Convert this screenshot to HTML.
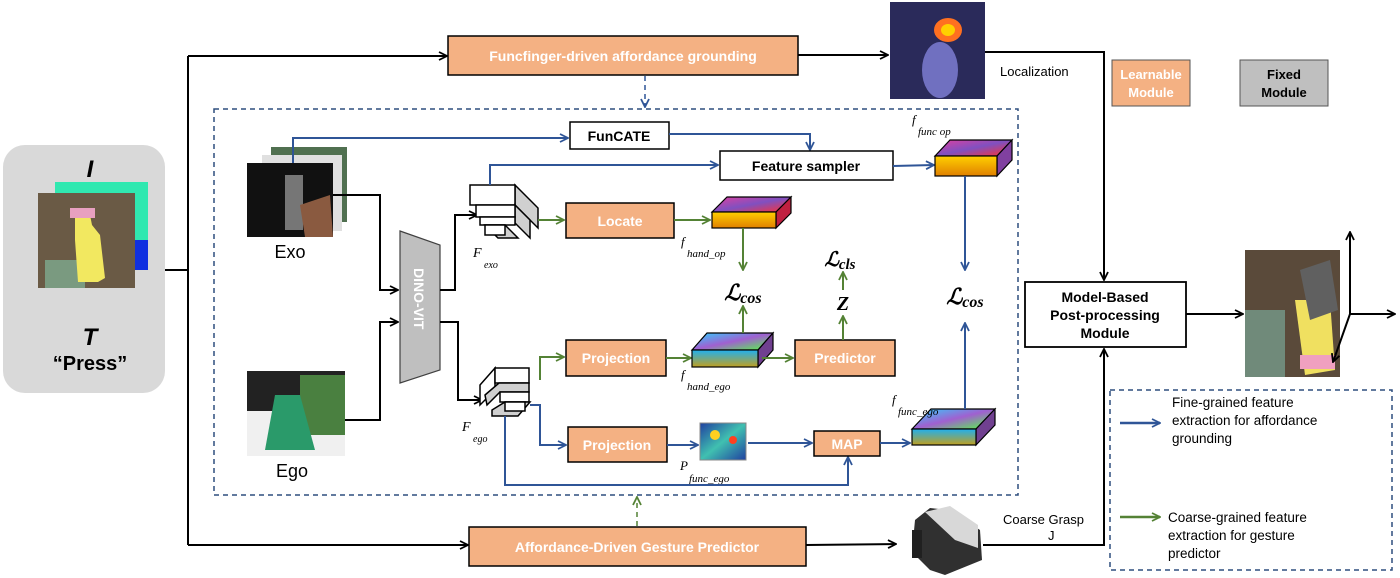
<!DOCTYPE html>
<html><head><meta charset="utf-8"><style>
html,body{margin:0;padding:0;background:#fff}
svg{display:block}
text{font-family:"Liberation Sans",sans-serif}
.b{font-weight:bold}
.it{font-family:"Liberation Serif",serif;font-style:italic}
</style></head><body>
<svg width="1400" height="578" viewBox="0 0 1400 578" xmlns="http://www.w3.org/2000/svg">
<defs>
<marker id="ak" markerWidth="10" markerHeight="10" refX="9" refY="5" orient="auto" markerUnits="userSpaceOnUse"><path d="M1,1 L9,5 L1,9" fill="none" stroke="#000" stroke-width="1.8"/></marker>
<marker id="ab" markerWidth="10" markerHeight="10" refX="9" refY="5" orient="auto" markerUnits="userSpaceOnUse"><path d="M1,1 L9,5 L1,9" fill="none" stroke="#2f5597" stroke-width="1.8"/></marker>
<marker id="ag" markerWidth="10" markerHeight="10" refX="9" refY="5" orient="auto" markerUnits="userSpaceOnUse"><path d="M1,1 L9,5 L1,9" fill="none" stroke="#548235" stroke-width="1.8"/></marker>
<linearGradient id="g1" x1="0" y1="0" x2="1" y2="1"><stop offset="0" stop-color="#e040a0"/><stop offset=".5" stop-color="#8050c0"/><stop offset="1" stop-color="#ff3030"/></linearGradient>
<linearGradient id="g1f" x1="0" y1="0" x2="0" y2="1"><stop offset="0" stop-color="#ffd000"/><stop offset="1" stop-color="#e08000"/></linearGradient>
<linearGradient id="g2" x1="0" y1="0" x2="1" y2="1"><stop offset="0" stop-color="#30d0ff"/><stop offset=".5" stop-color="#a060d0"/><stop offset="1" stop-color="#50ff40"/></linearGradient>
<linearGradient id="g2f" x1="0" y1="0" x2="0" y2="1"><stop offset="0" stop-color="#20b0f0"/><stop offset="1" stop-color="#c0a020"/></linearGradient>
<linearGradient id="hm" x1="0" y1="0" x2="1" y2="1"><stop offset="0" stop-color="#2040a0"/><stop offset=".5" stop-color="#40c0b0"/><stop offset="1" stop-color="#2040a0"/></linearGradient>
</defs>

<rect x="3" y="145" width="162" height="248" rx="22" fill="#d9d9d9"/>
<text x="90" y="177" font-size="24" class="b" font-style="italic" text-anchor="middle">I</text>
<rect x="55" y="182" width="93" height="88" fill="#30e8b0"/>
<rect x="135" y="240" width="13" height="30" fill="#1030e0"/>
<rect x="38" y="193" width="97" height="95" fill="#6a5a45"/>
<rect x="45" y="260" width="40" height="28" fill="#7a9a80"/>
<path d="M75,215 L90,215 L92,225 L100,235 L105,278 L98,282 L78,282 L75,240 Z" fill="#f2e860"/>
<rect x="70" y="208" width="25" height="10" fill="#e8a0c0"/>
<text x="90" y="345" font-size="24" class="b" font-style="italic" text-anchor="middle">T</text>
<text x="90" y="370" font-size="20" class="b" text-anchor="middle">“Press”</text>

<line x1="165" y1="270" x2="188" y2="270" stroke="#000" stroke-width="2"/>
<line x1="188" y1="56" x2="188" y2="545" stroke="#000" stroke-width="2"/>
<line x1="188" y1="56" x2="447" y2="56" stroke="#000" stroke-width="2" marker-end="url(#ak)"/>
<line x1="188" y1="545" x2="468" y2="545" stroke="#000" stroke-width="2" marker-end="url(#ak)"/>

<rect x="448" y="36" width="350" height="39" fill="#f4b183" stroke="#000" stroke-width="1.5"/>
<text x="623" y="61" font-size="14" class="b" fill="#fff" text-anchor="middle">Funcfinger-driven affordance grounding</text>
<line x1="798" y1="55" x2="888" y2="55" stroke="#000" stroke-width="2" marker-end="url(#ak)"/>
<rect x="890" y="2" width="95" height="97" fill="#2a2a5a"/>
<ellipse cx="940" cy="70" rx="18" ry="28" fill="#7070c0"/>
<ellipse cx="948" cy="30" rx="14" ry="12" fill="#ff7020"/>
<ellipse cx="948" cy="30" rx="7" ry="6" fill="#ffd000"/>
<polyline points="985,52 1104,52 1104,280" fill="none" stroke="#000" stroke-width="2" marker-end="url(#ak)"/>
<text x="1000" y="76" font-size="13">Localization</text>

<rect x="1112" y="60" width="78" height="46" fill="#f4b183" stroke="#555" stroke-width="1"/>
<text x="1151" y="79" font-size="13" class="b" fill="#fff" text-anchor="middle">Learnable</text>
<text x="1151" y="97" font-size="13" class="b" fill="#fff" text-anchor="middle">Module</text>
<rect x="1240" y="60" width="88" height="46" fill="#bfbfbf" stroke="#555" stroke-width="1"/>
<text x="1284" y="79" font-size="13" class="b" text-anchor="middle">Fixed</text>
<text x="1284" y="97" font-size="13" class="b" text-anchor="middle">Module</text>

<rect x="214" y="109" width="804" height="386" fill="none" stroke="#2f4f7f" stroke-width="1.5" stroke-dasharray="5,4"/>
<line x1="645" y1="76" x2="645" y2="107" stroke="#2f5597" stroke-width="1.5" stroke-dasharray="5,4" marker-end="url(#ab)"/>
<line x1="637" y1="526" x2="637" y2="497" stroke="#548235" stroke-width="1.5" stroke-dasharray="5,4" marker-end="url(#ag)"/>

<rect x="271" y="147" width="76" height="75" fill="#507050"/>
<rect x="262" y="155" width="80" height="76" fill="#e0e0e0"/>
<rect x="247" y="163" width="86" height="74" fill="#111"/>
<rect x="285" y="175" width="18" height="55" fill="#bbb" opacity=".6"/>
<path d="M300,205 L330,195 L333,237 L305,237 Z" fill="#8a5a40"/>
<text x="290" y="258" font-size="18" text-anchor="middle">Exo</text>
<rect x="247" y="371" width="98" height="85" fill="#f0f0f0"/>
<rect x="247" y="371" width="98" height="40" fill="#222"/>
<rect x="300" y="375" width="45" height="60" fill="#4a8040"/>
<path d="M275,395 L300,395 L315,450 L265,450 Z" fill="#2a9a6a"/>
<text x="292" y="477" font-size="18" text-anchor="middle">Ego</text>

<polyline points="333,195 380,195 380,290 398,290" fill="none" stroke="#000" stroke-width="2" marker-end="url(#ak)"/>
<polyline points="345,420 380,420 380,322 398,322" fill="none" stroke="#000" stroke-width="2" marker-end="url(#ak)"/>
<polygon points="400,231 440,245 440,370 400,383" fill="#bfbfbf" stroke="#404040" stroke-width="1.2"/>
<text x="0" y="0" font-size="14" class="b" fill="#fff" transform="translate(414,268) rotate(90)">DINO-VIT</text>
<polyline points="440,290 455,290 455,215 477,215" fill="none" stroke="#000" stroke-width="2" marker-end="url(#ak)"/>
<polyline points="440,322 458,322 458,400 482,400" fill="none" stroke="#000" stroke-width="2" marker-end="url(#ak)"/>

<g stroke="#000" stroke-width="1.5">
<polygon points="515,185 538,208 538,228 515,205" fill="#d0d0d0"/>
<rect x="470" y="185" width="45" height="20" fill="#fff"/>
<polygon points="515,205 530,220 530,238 515,223" fill="#d0d0d0"/>
<rect x="476" y="205" width="39" height="12" fill="#fff"/>
<rect x="480" y="217" width="35" height="8" fill="#fff"/>
<polygon points="485,225 505,225 518,238 498,238" fill="#d0d0d0"/>
<rect x="485" y="225" width="20" height="10" fill="#fff"/>
</g>
<text x="473" y="257" font-size="14" class="it">F</text>
<text x="484" y="268" font-size="10" class="it">exo</text>
<g stroke="#000" stroke-width="1.5">
<polygon points="480,385 495,368 495,390 480,405" fill="#fff"/>
<rect x="495" y="368" width="34" height="15" fill="#fff"/>
<polygon points="485,395 499,383 529,383 529,392 500,392 487,405" fill="#d0d0d0"/>
<rect x="500" y="392" width="29" height="10" fill="#fff"/>
<polygon points="492,410 505,402 530,402 518,416 492,416" fill="#d0d0d0"/>
<rect x="505" y="402" width="20" height="9" fill="#fff"/>
</g>
<text x="462" y="431" font-size="14" class="it">F</text>
<text x="473" y="442" font-size="10" class="it">ego</text>

<polyline points="293,163 293,138 568,138" fill="none" stroke="#2f5597" stroke-width="2" marker-end="url(#ab)"/>
<rect x="570" y="122" width="99" height="27" fill="#fff" stroke="#000" stroke-width="1.5"/>
<text x="619" y="141" font-size="14" class="b" text-anchor="middle">FunCATE</text>
<polyline points="669,134 810,134 810,150" fill="none" stroke="#2f5597" stroke-width="2" marker-end="url(#ab)"/>
<polyline points="490,185 490,165 718,165" fill="none" stroke="#2f5597" stroke-width="2" marker-end="url(#ab)"/>
<rect x="720" y="151" width="173" height="29" fill="#fff" stroke="#000" stroke-width="1.5"/>
<text x="806" y="171" font-size="14" class="b" text-anchor="middle">Feature sampler</text>
<line x1="893" y1="166" x2="934" y2="165" stroke="#2f5597" stroke-width="2" marker-end="url(#ab)"/>
<g stroke="#000" stroke-width="1.2">
<polygon points="935,156 950,140 1012,140 997,156" fill="url(#g1)"/>
<polygon points="997,156 1012,140 1012,160 997,176" fill="#8040a0"/>
<rect x="935" y="156" width="62" height="20" fill="url(#g1f)"/>
</g>
<text x="912" y="124" font-size="13" class="it">f</text>
<text x="918" y="135" font-size="11" class="it">func op</text>

<line x1="538" y1="220" x2="564" y2="220" stroke="#548235" stroke-width="2" marker-end="url(#ag)"/>
<rect x="566" y="203" width="108" height="35" fill="#f4b183" stroke="#000" stroke-width="1.5"/>
<text x="620" y="226" font-size="14" class="b" fill="#fff" text-anchor="middle">Locate</text>
<line x1="674" y1="220" x2="710" y2="220" stroke="#548235" stroke-width="2" marker-end="url(#ag)"/>
<g stroke="#000" stroke-width="1.2">
<polygon points="712,212 727,197 791,197 776,212" fill="url(#g1)"/>
<polygon points="776,212 791,197 791,213 776,228" fill="#c02040"/>
<rect x="712" y="212" width="64" height="16" fill="url(#g1f)"/>
</g>
<text x="681" y="246" font-size="13" class="it">f</text>
<text x="687" y="257" font-size="11" class="it">hand_op</text>
<line x1="743" y1="228" x2="743" y2="270" stroke="#548235" stroke-width="2" marker-end="url(#ag)"/>
<text x="743" y="300" font-size="22" class="b it" text-anchor="middle">ℒ<tspan font-size="16" dy="3">cos</tspan></text>

<polyline points="540,380 540,357 564,357" fill="none" stroke="#548235" stroke-width="2" marker-end="url(#ag)"/>
<rect x="566" y="340" width="100" height="36" fill="#f4b183" stroke="#000" stroke-width="1.5"/>
<text x="616" y="363" font-size="14" class="b" fill="#fff" text-anchor="middle">Projection</text>
<line x1="666" y1="358" x2="691" y2="358" stroke="#548235" stroke-width="2" marker-end="url(#ag)"/>
<g stroke="#000" stroke-width="1.2">
<polygon points="692,350 707,333 773,333 758,350" fill="url(#g2)"/>
<polygon points="758,350 773,333 773,350 758,367" fill="#704090"/>
<rect x="692" y="350" width="66" height="17" fill="url(#g2f)"/>
</g>
<line x1="743" y1="333" x2="743" y2="306" stroke="#548235" stroke-width="2" marker-end="url(#ag)"/>
<line x1="762" y1="358" x2="793" y2="358" stroke="#548235" stroke-width="2" marker-end="url(#ag)"/>
<text x="681" y="379" font-size="13" class="it">f</text>
<text x="687" y="390" font-size="11" class="it">hand_ego</text>
<rect x="795" y="340" width="100" height="36" fill="#f4b183" stroke="#000" stroke-width="1.5"/>
<text x="845" y="363" font-size="14" class="b" fill="#fff" text-anchor="middle">Predictor</text>
<line x1="843" y1="340" x2="843" y2="316" stroke="#548235" stroke-width="2" marker-end="url(#ag)"/>
<text x="843" y="310" font-size="20" class="b it" text-anchor="middle">Z</text>
<line x1="843" y1="290" x2="843" y2="272" stroke="#548235" stroke-width="2" marker-end="url(#ag)"/>
<text x="840" y="266" font-size="20" class="b it" text-anchor="middle">ℒ<tspan font-size="15" dy="3">cls</tspan></text>

<polyline points="530,405 540,405 540,445 566,445" fill="none" stroke="#2f5597" stroke-width="2" marker-end="url(#ab)"/>
<rect x="568" y="427" width="99" height="35" fill="#f4b183" stroke="#000" stroke-width="1.5"/>
<text x="617" y="450" font-size="14" class="b" fill="#fff" text-anchor="middle">Projection</text>
<line x1="667" y1="445" x2="698" y2="445" stroke="#2f5597" stroke-width="2" marker-end="url(#ab)"/>
<rect x="700" y="423" width="46" height="37" fill="url(#hm)" stroke="#888"/>
<circle cx="715" cy="435" r="5" fill="#ffd020"/><circle cx="733" cy="440" r="4" fill="#ff4020"/>
<text x="680" y="470" font-size="13" class="it">P</text>
<text x="689" y="482" font-size="11" class="it">func_ego</text>
<line x1="748" y1="443" x2="812" y2="443" stroke="#2f5597" stroke-width="2" marker-end="url(#ab)"/>
<polyline points="505,416 505,485 848,485 848,457" fill="none" stroke="#2f5597" stroke-width="2" marker-end="url(#ab)"/>
<rect x="814" y="431" width="66" height="25" fill="#f4b183" stroke="#000" stroke-width="1.5"/>
<text x="847" y="449" font-size="14" class="b" fill="#fff" text-anchor="middle">MAP</text>
<line x1="880" y1="443" x2="910" y2="443" stroke="#2f5597" stroke-width="2" marker-end="url(#ab)"/>
<g stroke="#000" stroke-width="1.2">
<polygon points="912,429 931,409 995,409 976,429" fill="url(#g2)"/>
<polygon points="976,429 995,409 995,425 976,445" fill="#704090"/>
<rect x="912" y="429" width="64" height="16" fill="url(#g2f)"/>
</g>
<text x="892" y="404" font-size="13" class="it">f</text>
<text x="898" y="415" font-size="11" class="it">func_ego</text>
<line x1="965" y1="409" x2="965" y2="323" stroke="#2f5597" stroke-width="2" marker-end="url(#ab)"/>
<line x1="965" y1="176" x2="965" y2="270" stroke="#2f5597" stroke-width="2" marker-end="url(#ab)"/>
<text x="965" y="304" font-size="22" class="b it" text-anchor="middle">ℒ<tspan font-size="16" dy="3">cos</tspan></text>

<rect x="1025" y="282" width="161" height="65" fill="#fff" stroke="#000" stroke-width="1.8"/>
<text x="1105" y="302" font-size="14" class="b" text-anchor="middle">Model-Based</text>
<text x="1105" y="320" font-size="14" class="b" text-anchor="middle">Post-processing</text>
<text x="1105" y="338" font-size="14" class="b" text-anchor="middle">Module</text>
<line x1="1186" y1="314" x2="1243" y2="314" stroke="#000" stroke-width="2" marker-end="url(#ak)"/>
<rect x="1245" y="250" width="95" height="127" fill="#5a4a3a"/>
<rect x="1245" y="310" width="40" height="67" fill="#708a7a"/>
<path d="M1295,300 L1330,300 L1335,370 L1305,375 Z" fill="#f0e060"/>
<rect x="1300" y="355" width="35" height="14" fill="#f0a0c0"/>
<path d="M1300,270 L1330,260 L1338,310 L1310,320 Z" fill="#606060"/>
<line x1="1350" y1="314" x2="1350" y2="232" stroke="#000" stroke-width="2" marker-end="url(#ak)"/>
<line x1="1350" y1="314" x2="1395" y2="314" stroke="#000" stroke-width="2" marker-end="url(#ak)"/>
<line x1="1350" y1="314" x2="1333" y2="362" stroke="#000" stroke-width="2" marker-end="url(#ak)"/>

<rect x="1110" y="390" width="282" height="180" fill="none" stroke="#2f4f7f" stroke-width="1.5" stroke-dasharray="5,4"/>
<line x1="1120" y1="423" x2="1160" y2="423" stroke="#2f5597" stroke-width="2.5" marker-end="url(#ab)"/>
<text x="1172" y="407" font-size="13.5">Fine-grained feature</text>
<text x="1172" y="425" font-size="13.5">extraction for affordance</text>
<text x="1172" y="443" font-size="13.5">grounding</text>
<line x1="1120" y1="517" x2="1160" y2="517" stroke="#548235" stroke-width="2.5" marker-end="url(#ag)"/>
<text x="1168" y="522" font-size="13.5">Coarse-grained feature</text>
<text x="1168" y="540" font-size="13.5">extraction for gesture</text>
<text x="1168" y="558" font-size="13.5">predictor</text>

<rect x="469" y="527" width="337" height="39" fill="#f4b183" stroke="#000" stroke-width="1.5"/>
<text x="637" y="552" font-size="14" class="b" fill="#fff" text-anchor="middle">Affordance-Driven Gesture Predictor</text>
<line x1="806" y1="545" x2="896" y2="544" stroke="#000" stroke-width="2" marker-end="url(#ak)"/>
<path d="M915,520 L930,508 L948,510 L980,530 L982,560 L945,575 L930,570 L912,552 Z" fill="#303030"/>
<path d="M925,512 L950,506 L978,525 L978,548 L955,540 Z" fill="#d8d8d8"/>
<rect x="912" y="530" width="10" height="28" fill="#202020"/>
<polyline points="983,545 1104,545 1104,349" fill="none" stroke="#000" stroke-width="2" marker-end="url(#ak)"/>
<text x="1003" y="524" font-size="13">Coarse Grasp</text>
<text x="1048" y="540" font-size="13">J</text>
</svg>
</body></html>
